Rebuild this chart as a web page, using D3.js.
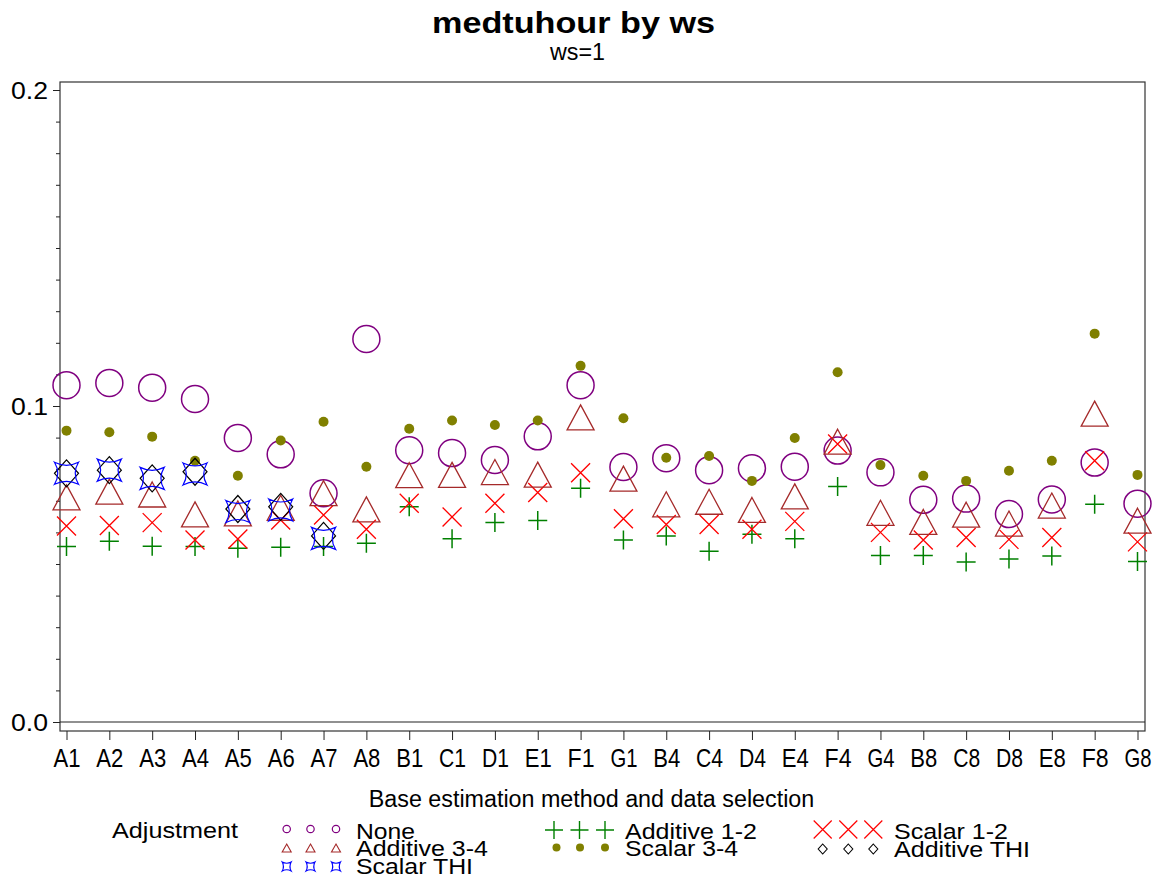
<!DOCTYPE html>
<html>
<head>
<meta charset="utf-8">
<script src="https://cdn.jsdelivr.net/npm/d3@7/dist/d3.min.js"></script>
<style>
  html, body { margin: 0; padding: 0; background: #fff; }
  svg { display: block; font-family: "Liberation Sans", Arial, sans-serif; }
</style>
</head>
<body>
<svg id="chart" width="1157" height="879"></svg>
<script>
// ---------- DATA ----------
const categories = ["A1","A2","A3","A4","A5","A6","A7","A8","B1","C1","D1","E1","F1","G1",
                    "B4","C4","D4","E4","F4","G4","B8","C8","D8","E8","F8","G8"];
const seriesNames = ["None","Additive 1-2","Scalar 1-2","Additive 3-4","Scalar 3-4","Additive THI","Scalar THI"];
const yTickValues = [0.0, 0.1, 0.2];

const valNone = [0.1066,0.1073,0.1058,0.1022,0.0899,0.0847,0.0724,0.1212,0.0860,0.0851,0.0829,0.0904,0.1066,
                 0.0807,0.0835,0.0797,0.0803,0.0808,0.0859,0.0790,0.0703,0.0707,0.0658,0.0704,0.0821,0.0691];
const valAdditive12 = [0.0555,0.0572,0.0556,0.0555,0.0550,0.0553,0.0555,0.0566,0.0681,0.0580,0.0631,0.0638,0.0740,
                       0.0576,0.0589,0.0540,0.0594,0.0580,0.0745,0.0527,0.0527,0.0506,0.0516,0.0525,0.0689,0.0508];
const valScalar12 = [0.0620,0.0622,0.0631,0.0576,0.0579,0.0639,0.0655,0.0610,0.0692,0.0649,0.0692,0.0726,0.0789,
                     0.0643,0.0625,0.0625,0.0610,0.0635,0.0880,0.0600,0.0576,0.0584,0.0578,0.0584,0.0827,0.0570];
const valAdditive34 = [0.0711,0.0729,0.0720,0.0657,0.0660,0.0678,0.0724,0.0673,0.0781,0.0782,0.0791,0.0783,0.0964,
                       0.0770,0.0689,0.0697,0.0671,0.0714,0.0887,0.0662,0.0633,0.0656,0.0628,0.0685,0.0976,0.0637];
const valScalar34 = [0.0922,0.0917,0.0903,0.0827,0.0779,0.0891,0.0950,0.0808,0.0928,0.0954,0.0940,0.0954,0.1127,
                     0.0961,0.0836,0.0842,0.0763,0.0899,0.1107,0.0813,0.0779,0.0763,0.0795,0.0827,0.1229,0.0782];
const valAdditiveTHI = [0.0787,0.0797,0.0771,0.0792,0.0674,0.0681,0.0589];
const valScalarTHI   = [0.0787,0.0797,0.0771,0.0785,0.0666,0.0671,0.0581];

// ---------- STYLES ----------
const styles = {
  "None":         {shape:"circle",   color:"#800080"},
  "Additive 1-2": {shape:"plus",     color:"#008000"},
  "Scalar 1-2":   {shape:"x",        color:"#ff0000"},
  "Additive 3-4": {shape:"triangle", color:"#a52a2a"},
  "Scalar 3-4":   {shape:"dot",      color:"#808000"},
  "Additive THI": {shape:"diamond",  color:"#000000"},
  "Scalar THI":   {shape:"concave",  color:"#0000ff"}
};
const seriesValues = {
  "None": valNone, "Additive 1-2": valAdditive12, "Scalar 1-2": valScalar12,
  "Additive 3-4": valAdditive34, "Scalar 3-4": valScalar34,
  "Additive THI": valAdditiveTHI, "Scalar THI": valScalarTHI
};

const svg = d3.select("#chart");
const FONT = "'Liberation Sans', Arial, sans-serif";

const frame = {left: 60, right: 1145, top: 82, bottom: 731};
const x = d3.scalePoint().domain(categories).range([66.5, 1137.5]);
const y = d3.scaleLinear().domain([0, 0.2]).range([722, 90]);

// symbol path generator
function symPath(shape, s) {
  switch (shape) {
    case "triangle": { const w = s.w/2, h = s.h/2; return `M0,${-h}L${w},${h}L${-w},${h}Z`; }
    case "x": { const a = s.a; return `M${-a},${-a}L${a},${a}M${-a},${a}L${a},${-a}`; }
    case "plus": { const a = s.a; return `M${-a},0L${a},0M0,${-a}L0,${a}`; }
    case "diamond": { const w = s.w, h = s.h; return `M0,${-h}L${w},0L0,${h}L${-w},0Z`; }
    case "concave": { const w = s.w, h = s.h, k = 0.45;
      return `M${-w},${-h}Q0,${-h*k} ${w},${-h}Q${w*k},0 ${w},${h}Q0,${h*k} ${-w},${h}Q${-w*k},0 ${-w},${-h}Z`; }
  }
  return "";
}
function drawSymbol(g, shape, color, cx, cy, s) {
  if (shape === "circle") {
    g.append("circle").attr("cx", cx).attr("cy", cy).attr("r", s.r)
      .attr("fill", "none").attr("stroke", color).attr("stroke-width", s.sw || 1.5);
  } else if (shape === "dot") {
    g.append("circle").attr("cx", cx).attr("cy", cy).attr("r", s.r)
      .attr("fill", color).attr("stroke", "none");
  } else {
    g.append("path").attr("d", symPath(shape, s))
      .attr("transform", `translate(${cx},${cy})`)
      .attr("fill", "none").attr("stroke", color).attr("stroke-width", s.sw || 1.3);
  }
}
const plotSizes = {
  circle: {r: 13.5, sw: 1.5},
  plus: {a: 9.5, sw: 1.5},
  x: {a: 9.5, sw: 1.3},
  triangle: {w: 27, h: 25, sw: 1.3},
  dot: {r: 5},
  diamond: {w: 12, h: 13.5, sw: 1.2},
  concave: {w: 12, h: 11, sw: 1.2}
};
const legendSizes = {
  circle: {r: 3.7, sw: 1.2},
  plus: {a: 9, sw: 1.4},
  x: {a: 9, sw: 1.2},
  triangle: {w: 9, h: 8, sw: 1.1},
  dot: {r: 4},
  diamond: {w: 4.5, h: 5, sw: 1.1},
  concave: {w: 4.5, h: 4.5, sw: 1.1}
};

// ---------- FRAME ----------
svg.append("rect")
  .attr("x", frame.left).attr("y", frame.top)
  .attr("width", frame.right - frame.left).attr("height", frame.bottom - frame.top)
  .attr("fill", "none").attr("stroke", "#333").attr("stroke-width", 1.2);
svg.append("line")
  .attr("x1", frame.left).attr("x2", frame.right)
  .attr("y1", y(0)).attr("y2", y(0))
  .attr("stroke", "#222").attr("stroke-width", 1.2);

// ---------- Y AXIS ----------
const yMinor = svg.append("g").attr("transform", `translate(${frame.left},0)`)
  .call(d3.axisLeft(y).tickValues(d3.range(0, 21).map(i => i / 100)).tickSize(4).tickFormat(""));
yMinor.select(".domain").remove();
const yMajor = svg.append("g").attr("transform", `translate(${frame.left},0)`)
  .call(d3.axisLeft(y).tickValues(yTickValues).tickSize(7).tickFormat(d3.format(".1f")));
yMajor.select(".domain").remove();
svg.selectAll("g.tick line").attr("stroke", "#222");
yMajor.selectAll("text")
  .attr("x", -12).attr("dy", "0.36em")
  .attr("font-family", FONT).attr("font-size", 24).attr("fill", "#000")
  .attr("textLength", 37).attr("lengthAdjust", "spacingAndGlyphs");

// ---------- X AXIS ----------
const xAxis = svg.append("g").attr("transform", `translate(0,${frame.bottom})`)
  .call(d3.axisBottom(x).tickSize(9));
xAxis.select(".domain").remove();
xAxis.selectAll("line").attr("stroke", "#222");
xAxis.selectAll("text")
  .attr("y", 36).attr("dy", 0)
  .attr("font-family", FONT).attr("font-size", 25).attr("fill", "#000")
  .attr("textLength", 27).attr("lengthAdjust", "spacingAndGlyphs");

svg.append("text")
  .attr("x", 591.5).attr("y", 806.5).attr("text-anchor", "middle")
  .attr("font-family", FONT).attr("font-size", 23.3).attr("fill", "#000")
  .text("Base estimation method and data selection");

// ---------- TITLES ----------
svg.append("text")
  .attr("x", 573.5).attr("y", 33).attr("text-anchor", "middle")
  .attr("font-family", FONT).attr("font-size", 30).attr("font-weight", "bold").attr("fill", "#000")
  .attr("textLength", 283).attr("lengthAdjust", "spacingAndGlyphs")
  .text("medtuhour by ws");
svg.append("text")
  .attr("x", 577.5).attr("y", 60).attr("text-anchor", "middle")
  .attr("font-family", FONT).attr("font-size", 23).attr("fill", "#000")
  .attr("textLength", 55).attr("lengthAdjust", "spacingAndGlyphs")
  .text("ws=1");

// ---------- MARKERS ----------
const drawOrder = ["None","Additive 1-2","Scalar 1-2","Additive 3-4","Scalar 3-4","Additive THI","Scalar THI"];
const marks = svg.append("g");
drawOrder.forEach(name => {
  const st = styles[name];
  const g = marks.append("g").attr("class", "series");
  seriesValues[name].forEach((v, i) => {
    if (v == null) return;
    drawSymbol(g, st.shape, st.color, x(categories[i]), y(v), plotSizes[st.shape]);
  });
});

// ---------- LEGEND ----------
const lg = svg.append("g");
lg.append("text").attr("x", 112).attr("y", 837.5)
  .attr("font-family", FONT).attr("font-size", 22).attr("fill", "#000")
  .attr("textLength", 126).attr("lengthAdjust", "spacingAndGlyphs")
  .text("Adjustment");

const legendLayout = [
  {name: "None",         symX: [286.7, 310.5, 336], symY: 829,   tx: 356, ty: 838.5, tl: 59},
  {name: "Additive 3-4", symX: [286.7, 310.5, 336], symY: 848,   tx: 356, ty: 856,   tl: 132},
  {name: "Scalar THI",   symX: [286.7, 310.5, 336], symY: 866.5, tx: 356, ty: 874,   tl: 117},
  {name: "Additive 1-2", symX: [554, 579.5, 605],   symY: 830,   tx: 625, ty: 838.5, tl: 132},
  {name: "Scalar 3-4",   symX: [556.5, 580, 605],   symY: 847.5, tx: 625, ty: 856,   tl: 113},
  {name: "Scalar 1-2",   symX: [822.7, 848.3, 873.3], symY: 829.5, tx: 894, ty: 838.5, tl: 114},
  {name: "Additive THI", symX: [822.7, 848.3, 873.3], symY: 849,   tx: 894, ty: 857,   tl: 136}
];
legendLayout.forEach(e => {
  const st = styles[e.name];
  e.symX.forEach(sx => drawSymbol(lg, st.shape, st.color, sx, e.symY, legendSizes[st.shape]));
  lg.append("text").attr("x", e.tx).attr("y", e.ty)
    .attr("font-family", FONT).attr("font-size", 22).attr("fill", "#000")
    .attr("textLength", e.tl).attr("lengthAdjust", "spacingAndGlyphs")
    .text(e.name);
});
</script>
</body>
</html>
